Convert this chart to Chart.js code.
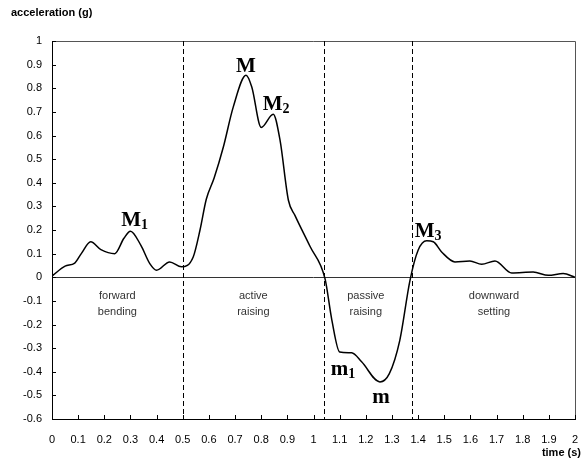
<!DOCTYPE html>
<html>
<head>
<meta charset="utf-8">
<script src="https://cdn.jsdelivr.net/npm/chart.js@4.4.1/dist/chart.umd.min.js"></script>
<style>
  html, body { margin: 0; padding: 0; background: #fff; }
  #wrap { width: 588px; height: 468px; }
</style>
</head>
<body>
<div id="wrap"><canvas id="accChart" width="588" height="468"></canvas></div>
<script>
// values
const timeVals = [0, 0.05, 0.087, 0.112, 0.148, 0.187, 0.24, 0.275, 0.30, 0.34, 0.374, 0.40, 0.45, 0.495,
  0.54, 0.566, 0.59, 0.62, 0.655, 0.693, 0.742, 0.764, 0.80, 0.846, 0.872, 0.904, 0.929, 0.987,
  1.044, 1.07, 1.10, 1.146, 1.184, 1.254, 1.29, 1.33, 1.369, 1.40, 1.433, 1.458, 1.49, 1.541,
  1.598, 1.643, 1.694, 1.758, 1.84, 1.898, 1.955, 2.0];
const accelVals = [0.005, 0.047, 0.06, 0.10, 0.15, 0.117, 0.10, 0.165, 0.195, 0.135, 0.058, 0.03, 0.065, 0.044,
  0.086, 0.2, 0.33, 0.42, 0.55, 0.72, 0.855, 0.805, 0.634, 0.69, 0.58, 0.326, 0.262, 0.13,
  -0.006, -0.18, -0.316, -0.32, -0.358, -0.443, -0.408, -0.267, -0.013, 0.114, 0.154, 0.15, 0.107, 0.065,
  0.069, 0.055, 0.069, 0.018, 0.022, 0.008, 0.016, 0.0];

const xTickVals = [0, 0.1, 0.2, 0.3, 0.4, 0.5, 0.6, 0.7, 0.8, 0.9, 1, 1.1, 1.2, 1.3, 1.4, 1.5, 1.6, 1.7, 1.8, 1.9, 2];
const yTickVals = [-0.6, -0.5, -0.4, -0.3, -0.2, -0.1, 0, 0.1, 0.2, 0.3, 0.4, 0.5, 0.6, 0.7, 0.8, 0.9, 1];

// phase borders (s) and phase names
const phaseBounds = [0.5, 1.04, 1.375];
const phaseNames = [['forward', 'bending'], ['active', 'raising'], ['passive', 'raising'], ['downward', 'setting']];
const phaseCenters = [0.25, 0.77, 1.2, 1.69];

// peak labels: main letter, subscript, anchor (s, g)
const peakMain = ['M', 'M', 'M', 'M', 'm', 'm'];
const peakSub = ['', '2', '1', '3', '1', ''];
const peakTime = [0.742, 0.857, 0.316, 1.438, 1.113, 1.258];
const peakAcc = [0.87, 0.707, 0.216, 0.169, -0.415, -0.533];

const sansFont = "'Liberation Sans Narrow', 'Arial Narrow', 'Liberation Sans', Arial, sans-serif";
const serifFont = "'Liberation Serif', 'Times New Roman', serif";

const points = timeVals.map((t, i) => ({ x: t, y: accelVals[i] }));

const decorPlugin = {
  id: 'decor',
  beforeDatasetsDraw(chart) {
    const { ctx, chartArea: a, scales: { x, y } } = chart;
    ctx.save();
    // top and right frame
    ctx.strokeStyle = '#555';
    ctx.lineWidth = 1;
    ctx.beginPath();
    ctx.moveTo(a.left, a.top + 0.5);
    ctx.lineTo(a.right + 0.5, a.top + 0.5);
    ctx.lineTo(a.right + 0.5, a.bottom);
    ctx.stroke();
    // zero line
    const y0 = Math.round(y.getPixelForValue(0)) + 0.5;
    ctx.strokeStyle = '#333';
    ctx.beginPath();
    ctx.moveTo(a.left, y0);
    ctx.lineTo(a.right, y0);
    ctx.stroke();
    // inward ticks
    ctx.strokeStyle = '#000';
    ctx.beginPath();
    xTickVals.forEach(v => {
      const px = Math.round(x.getPixelForValue(v)) + 0.5;
      ctx.moveTo(px, a.bottom);
      ctx.lineTo(px, a.bottom - 4);
    });
    yTickVals.forEach(v => {
      const py = Math.round(y.getPixelForValue(v)) + 0.5;
      ctx.moveTo(a.left, py);
      ctx.lineTo(a.left + 4, py);
    });
    ctx.stroke();
    // dashed phase borders
    ctx.setLineDash([5, 3]);
    ctx.beginPath();
    phaseBounds.forEach(v => {
      const px = Math.round(x.getPixelForValue(v)) + 0.5;
      ctx.moveTo(px, a.top);
      ctx.lineTo(px, a.bottom);
    });
    ctx.stroke();
    ctx.setLineDash([]);
    // phase names
    ctx.fillStyle = '#333';
    ctx.font = '11px ' + sansFont;
    ctx.textAlign = 'center';
    ctx.textBaseline = 'middle';
    phaseNames.forEach((lines, i) => {
      const px = x.getPixelForValue(phaseCenters[i]);
      lines.forEach((s, j) => ctx.fillText(s, px, y.getPixelForValue(-0.08) + j * 16));
    });
    ctx.restore();
  },
  afterDraw(chart) {
    const { ctx, scales: { x, y } } = chart;
    ctx.save();
    ctx.fillStyle = '#000';
    // axis titles
    ctx.font = 'bold 11px ' + sansFont;
    ctx.textBaseline = 'middle';
    ctx.textAlign = 'left';
    ctx.fillText('acceleration (g)', 11, 13);
    ctx.textAlign = 'right';
    ctx.fillText('time (s)', 581, 453);
    // peak labels
    ctx.textBaseline = 'alphabetic';
    peakMain.forEach((m, i) => {
      const px = x.getPixelForValue(peakTime[i]);
      const py = y.getPixelForValue(peakAcc[i]);
      ctx.font = 'bold 21px ' + serifFont;
      const w1 = ctx.measureText(m).width;
      ctx.font = 'bold 14px ' + serifFont;
      const w2 = peakSub[i] ? ctx.measureText(peakSub[i]).width : 0;
      const left = px - (w1 + w2) / 2;
      ctx.textAlign = 'left';
      ctx.font = 'bold 21px ' + serifFont;
      ctx.fillText(m, left, py);
      if (peakSub[i]) {
        ctx.font = 'bold 14px ' + serifFont;
        ctx.fillText(peakSub[i], left + w1, py + 3);
      }
    });
    ctx.restore();
  }
};

new Chart(document.getElementById('accChart'), {
  type: 'line',
  data: {
    datasets: [{
      data: points,
      borderColor: '#000',
      borderWidth: 1.5,
      pointRadius: 0,
      fill: false,
      cubicInterpolationMode: 'monotone'
    }]
  },
  options: {
    responsive: false,
    animation: false,
    layout: { padding: { top: 41, right: 0, left: 0, bottom: 0 } },
    plugins: { legend: { display: false }, tooltip: { enabled: false } },
    scales: {
      x: {
        type: 'linear',
        min: 0,
        max: 2,
        afterBuildTicks: s => { s.ticks = xTickVals.map(v => ({ value: v })); },
        afterFit: s => { s.height = 49; s.paddingRight = 13; },
        grid: { display: false, drawTicks: false, tickLength: 0 },
        border: { display: true, color: '#000', width: 1 },
        ticks: {
          padding: 14,
          maxRotation: 0,
          autoSkip: false,
          color: '#000',
          font: { family: sansFont, size: 11 },
          callback: v => String(Number(v.toFixed(1)))
        }
      },
      y: {
        type: 'linear',
        min: -0.6,
        max: 1,
        afterBuildTicks: s => { s.ticks = yTickVals.map(v => ({ value: v })); },
        afterFit: s => { s.width = 52; },
        grid: { display: false, drawTicks: false, tickLength: 0 },
        border: { display: true, color: '#000', width: 1 },
        ticks: {
          padding: 10,
          autoSkip: false,
          color: '#000',
          font: { family: sansFont, size: 11 },
          callback: v => String(Number(v.toFixed(1)))
        }
      }
    }
  },
  plugins: [decorPlugin]
});
</script>
</body>
</html>
